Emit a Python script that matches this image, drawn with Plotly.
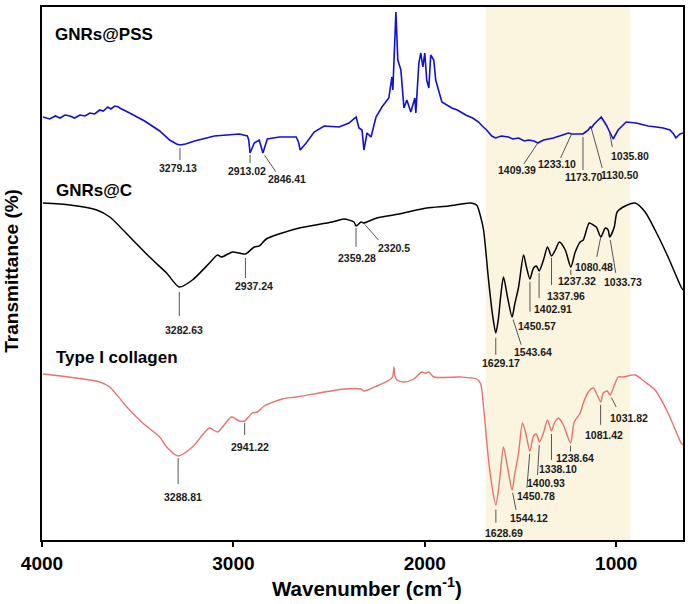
import plotly.graph_objects as go
import numpy as np

# FTIR spectra, transmittance in arbitrary (offset) units
wn_pss = [3995, 3960, 3930, 3906, 3880, 3854, 3830, 3802, 3775, 3750, 3725, 3698, 3680, 3656, 3640,
          3620, 3600, 3594, 3542, 3464, 3385, 3333, 3297, 3279, 3250, 3203, 3099, 2969, 2927, 2920,
          2913, 2891, 2865, 2846, 2823, 2760, 2672, 2660, 2651, 2620, 2578, 2526, 2448, 2396, 2359,
          2344, 2328, 2318, 2302, 2281, 2255, 2224, 2188, 2172, 2167, 2151, 2141, 2125, 2109, 2094,
          2073, 2052, 2047, 2031, 2021, 2010, 2000, 1990, 1979, 1969, 1953, 1943, 1911, 1880, 1859,
          1830, 1786, 1750, 1719, 1700, 1677, 1650, 1630, 1600, 1563, 1540, 1510, 1480, 1458, 1430,
          1409, 1380, 1328, 1280, 1250, 1233, 1200, 1174, 1160, 1146, 1135, 1130, 1115, 1078, 1052,
          1036, 1016, 990, 948, 896, 860, 833, 790, 755, 719, 700, 688, 667, 651]
t_pss = [423, 421, 424, 422, 425, 424, 422, 425, 424, 427, 426, 430, 429, 433, 431,
         434, 433, 432, 427, 419, 409, 400, 396, 395, 396, 399, 404, 406, 404, 400,
         387, 397, 400, 387, 401, 403, 403, 398, 390, 397, 408, 414, 413, 417, 423,
         412, 410, 390, 407, 403, 423, 433, 442, 463, 450, 528, 480, 470, 432, 440,
         428, 442, 427, 477, 487, 473, 487, 460, 452, 485, 480, 460, 438, 434, 432,
         430, 425, 422, 418, 414, 410, 404, 402, 404, 403, 401, 402, 399, 400, 399,
         397, 400, 402, 405, 407, 406, 406, 406, 408, 410, 413, 412, 416, 423, 415,
         408, 401, 410, 418, 417, 415, 414, 413, 412, 410, 406, 402, 406, 407]

wn_c = [3995, 3854, 3714, 3646, 3526, 3438, 3349, 3283, 3214, 3125, 3083, 3063, 3005, 2969, 2937,
        2891, 2865, 2828, 2745, 2656, 2484, 2422, 2370, 2359, 2333, 2320, 2250, 2135, 1990, 1875,
        1760, 1729, 1708, 1693, 1667, 1646, 1629, 1615, 1604, 1589, 1568, 1544, 1531, 1510, 1484,
        1469, 1451, 1432, 1417, 1403, 1380, 1359, 1338, 1318, 1297, 1266, 1237, 1214, 1188, 1172,
        1141, 1120, 1104, 1080, 1057, 1042, 1034, 1010, 995, 953, 901, 849, 797, 729, 661, 651]
t_c = [337, 335, 330, 323, 300, 283, 267, 253, 260, 277, 285, 283, 288, 287, 286,
       293, 294, 301, 307, 312, 318, 321, 318, 314, 318, 317, 322, 326, 332, 334,
       337, 335, 323, 310, 260, 225, 207, 222, 243, 263, 243, 223, 235, 253, 285,
       273, 261, 272, 274, 269, 280, 293, 284, 290, 298, 290, 273, 288, 298, 300,
       317, 315, 313, 303, 312, 310, 303, 313, 328, 334, 337, 328, 310, 283, 253, 250]

wn_col = [3995, 3698, 3646, 3557, 3474, 3385, 3349, 3289, 3214, 3125, 3083, 3010, 2969, 2941, 2901,
          2875, 2839, 2745, 2672, 2422, 2333, 2318, 2250, 2177, 2167, 2161, 2156, 2146, 2109, 2057,
          2016, 1995, 1979, 1953, 1813, 1729, 1708, 1693, 1667, 1646, 1629, 1615, 1604, 1589, 1568,
          1544, 1531, 1510, 1490, 1474, 1451, 1432, 1417, 1401, 1380, 1359, 1338, 1323, 1302, 1276,
          1239, 1219, 1188, 1172, 1146, 1120, 1104, 1081, 1068, 1047, 1032, 1005, 990, 964, 901,
          849, 797, 729, 661, 651]
t_col = [166, 158, 153, 133, 117, 103, 93, 84, 93, 112, 108, 123, 119, 119, 127,
         128, 134, 141, 143, 151, 151, 149, 154, 161, 164, 173, 164, 160, 158, 161,
         168, 167, 168, 163, 163, 161, 156, 133, 80, 50, 35, 50, 70, 93, 73,
         50, 65, 87, 117, 108, 89, 104, 106, 98, 107, 120, 109, 117, 122, 115,
         97, 118, 127, 137, 148, 152, 147, 138, 147, 149, 145, 157, 163, 163, 165,
         158, 150, 127, 97, 95]

pss_peaks = ["3279.13", "2913.02", "2846.41", "1409.39", "1233.10", "1173.70", "1130.50", "1035.80"]
c_peaks = ["3282.63", "2937.24", "2359.28", "2320.5", "1629.17", "1543.64", "1450.57",
           "1402.91", "1337.96", "1237.32", "1080.48", "1033.73"]
col_peaks = ["3288.81", "2941.22", "1628.69", "1544.12", "1450.78", "1400.93", "1338.10",
             "1238.64", "1081.42", "1031.82"]

# leader line end (dx, dy), gap at curve, text offset (dx, dy) in screen pixels
pss_place = [(0, 15, 3, -2, 23), (0, 10, 2, -3, 18), (13, 19, 3, 24, 26), (-14, 21, 1, -21, 27),
             (-11, 24, 1, -15, 30), (0, 36, 3, 1, 43), (11, 40, 1, 29, 47), (3, 15, 1, 21, 24)]
c_place = [(0, 29, 5, 5, 43), (0, 24, 4, 9, 32), (0, 21, 2, 1, 32), (15, 17, 2, 31, 25),
           (0, 22, 5, 5, 30), (9, 28, 3, 21, 35), (0, 33, 3, 7, 47), (0, 27, 2, 14, 38),
           (0, 29, 2, 14, 40), (0, 8, 3, 6, 14), (-4, 20, 1, -7, 30), (6, 36, 3, 13, 45)]
col_place = [(0, 28, 2, 5, 41), (0, 14, 2, 5, 26), (0, 18, 5, 8, 28), (4, 20, 3, 17, 28),
             (-3, 37, 3, 6, 45), (-2, 33, 3, 7, 41), (0, 29, 3, 7, 38), (0, 9, 3, 4, 15),
             (0, 23, 3, 3, 33), (6, 12, 3, 19, 23)]

FONT = "Arial, Liberation Sans, sans-serif"

fig = go.Figure()

# highlighted fingerprint region
fig.add_vrect(x0=1682, x1=927, fillcolor="#FBF4DF", line_width=0, layer="below")

series = [
    ("GNRs@PSS", wn_pss, t_pss, "#1010D8", 1.6, "linear", pss_peaks, pss_place),
    ("GNRs@C", wn_c, t_c, "black", 1.5, "spline", c_peaks, c_place),
    ("Type I collagen", wn_col, t_col, "#E8736D", 1.4, "spline", col_peaks, col_place),
]

label_pos = {"GNRs@PSS": (3945, 506), "GNRs@C": (3935, 350), "Type I collagen": (3935, 183)}

for name, wn, t, color, width, shape, peaks, place in series:
    fig.add_trace(go.Scatter(x=wn, y=t, mode="lines", name=name,
                             line=dict(color=color, width=width, shape=shape, smoothing=0.7)))
    lx, ly = label_pos[name]
    fig.add_annotation(x=lx, y=ly, text=name, showarrow=False, xanchor="left",
                       font=dict(family=FONT, size=17, color="black", weight="bold"))
    for lab, (ldx, ldy, gap, tdx, tdy) in zip(peaks, place):
        px = float(lab)
        py = float(np.interp(px, wn[::-1], t[::-1]))
        # leader line, drawn in pixels relative to the peak point
        length = (ldx ** 2 + ldy ** 2) ** 0.5
        sx, sy = ldx * gap / length, ldy * gap / length
        fig.add_shape(type="line", xref="x", yref="y", xsizemode="pixel", ysizemode="pixel",
                      xanchor=px, yanchor=py, x0=sx, y0=-sy, x1=ldx, y1=-ldy,
                      line=dict(color="#555555", width=1))
        fig.add_annotation(x=px, y=py, text=lab, showarrow=False,
                           xshift=tdx, yshift=-tdy,
                           font=dict(family=FONT, size=10.5, color="#1a1a1a", weight="bold"))

# axis titles
fig.add_annotation(xref="paper", yref="paper", x=0.507, y=-0.088, xanchor="center", yanchor="middle",
                   text="Wavenumber (cm<sup>-1</sup>)", showarrow=False,
                   font=dict(family=FONT, size=20.5, color="black", weight="bold"))
fig.add_annotation(xref="paper", yref="paper", x=-0.047, y=0.505, xanchor="center", yanchor="middle",
                   text="Transmittance (%)", textangle=-90, showarrow=False,
                   font=dict(family=FONT, size=19, color="black", weight="bold"))

fig.update_layout(
    width=690, height=604,
    margin=dict(l=42, r=5, t=7, b=64),
    plot_bgcolor="white", paper_bgcolor="white",
    showlegend=False,
)
fig.update_xaxes(range=[4000, 651], tickvals=[4000, 3000, 2000, 1000], ticks="outside",
                 ticklen=5, tickwidth=1.5, tickcolor="black", showgrid=False, zeroline=False,
                 showline=True, linecolor="black", linewidth=2, mirror=True,
                 tickfont=dict(family=FONT, size=19, color="black", weight="bold"))
fig.update_yaxes(range=[0, 533], showticklabels=False, ticks="", showgrid=False, zeroline=False,
                 showline=True, linecolor="black", linewidth=2, mirror=True)

fig.write_html("out.html", config={"displayModeBar": False},
               post_script="document.body.style.margin='0';")
